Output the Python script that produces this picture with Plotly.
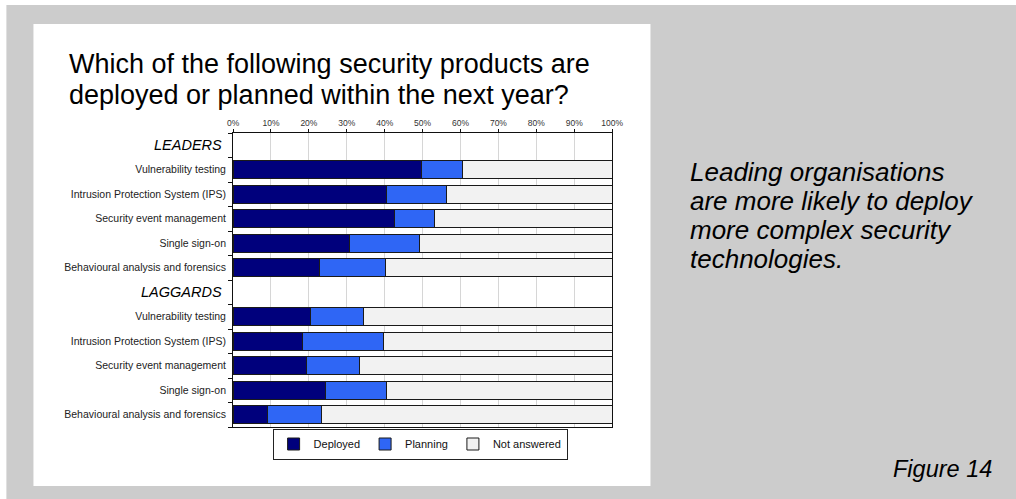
import plotly.graph_objects as go

# ---- data (percent of respondents) ----
cat_ids = ["LEADERS", "L_VT", "L_IPS", "L_SEM", "L_SSO", "L_BAF",
           "LAGGARDS", "G_VT", "G_IPS", "G_SEM", "G_SSO", "G_BAF"]
cat_labels = ["", "Vulnerability testing", "Intrusion Protection System (IPS)",
              "Security event management", "Single sign-on",
              "Behavioural analysis and forensics",
              "", "Vulnerability testing", "Intrusion Protection System (IPS)",
              "Security event management", "Single sign-on",
              "Behavioural analysis and forensics"]
group_headers = ["LEADERS", "LAGGARDS"]

deployed = [None, 49.6, 40.4, 42.7, 30.8, 22.8,
            None, 20.3, 18.3, 19.4, 24.4, 9.2]
planning = [None, 10.9, 15.8, 10.5, 18.5, 17.5,
            None, 14.0, 21.3, 13.9, 16.1, 14.1]
not_answered = [None, 39.5, 43.8, 46.8, 50.7, 59.7,
                None, 65.7, 60.4, 66.7, 59.5, 76.7]

x_ticks = [0, 10, 20, 30, 40, 50, 60, 70, 80, 90, 100]
x_ticktext = [f"{v}%" for v in x_ticks]

series = [("Deployed", deployed, "#00007c"),
          ("Planning", planning, "#2f66f5"),
          ("Not answered", not_answered, "#f2f2f2")]

title_lines = ["Which of the following security products are",
               "deployed or planned within the next year?"]
side_lines = ["Leading organisations", "are more likely to deploy",
              "more complex security", "technologies."]
figure_label = "Figure 14"

FONT = "Liberation Sans, Arial, sans-serif"

# figure canvas (slightly wider than the view so the grey fills it)
WF, H = 1040, 499
SX, OX = 0.982, 6.6   # observed horizontal mapping of the rendered page


def px_x(p):
    return ((p - OX) / SX) / WF


def px_y(p):
    return 1 - p / H


fig = go.Figure()
for name, vals, col in series:
    fig.add_trace(go.Bar(
        y=cat_ids, x=vals, name=name, orientation="h",
        marker=dict(color=col, line=dict(color="#1a1a1a", width=1)),
        width=0.74,
    ))

fig.update_layout(
    width=WF, height=H,
    margin=dict(l=0, r=0, t=0, b=0),
    paper_bgcolor="white",
    plot_bgcolor="rgba(0,0,0,0)",
    barmode="stack",
    font=dict(family=FONT, color="#222"),
    showlegend=True,
    legend=dict(
        orientation="h",
        x=px_x(420), y=px_y(444), xanchor="center", yanchor="middle",
        bordercolor="#222", borderwidth=1, bgcolor="white",
        font=dict(size=11, family=FONT, color="#111"),
        traceorder="normal",
        itemwidth=30,
    ),
    xaxis=dict(
        domain=[px_x(233.3), px_x(611.7)],
        range=[0, 100], side="top",
        tickvals=x_ticks, ticktext=x_ticktext,
        tickfont=dict(size=8.5, color="#333"),
        showgrid=True, gridcolor="#d6d6d6", gridwidth=1,
        showline=True, linecolor="#111", linewidth=1, mirror=True,
        ticks="outside", ticklen=3, tickcolor="#111",
        zeroline=False, fixedrange=True,
    ),
    yaxis=dict(
        domain=[px_y(427), px_y(133)],
        type="category",
        categoryorder="array", categoryarray=cat_ids,
        autorange="reversed",
        tickmode="array", tickvals=cat_ids, ticktext=cat_labels,
        tickson="boundaries",
        tickfont=dict(size=10.5, color="#222"),
        ticklabelstandoff=4,
        showline=True, linecolor="#111", linewidth=1, mirror=True,
        ticks="outside", ticklen=4, tickcolor="#111",
        showgrid=False, fixedrange=True,
    ),
    shapes=[
        dict(type="rect", xref="paper", yref="paper",
             x0=px_x(7), x1=1, y0=0, y1=px_y(5),
             fillcolor="#cccccc", line=dict(width=0), layer="below"),
        dict(type="rect", xref="paper", yref="paper",
             x0=px_x(34), x1=px_x(650), y0=px_y(486), y1=px_y(24),
             fillcolor="white", line=dict(width=0), layer="below"),
    ],
)

annotations = []
for i, line in enumerate(title_lines):
    annotations.append(dict(
        text=line, xref="paper", yref="paper",
        x=px_x(67.5), y=px_y(64 + 30.5 * i),
        xanchor="left", yanchor="middle", showarrow=False,
        font=dict(size=27, family=FONT, color="#000"),
    ))
for i, line in enumerate(side_lines):
    annotations.append(dict(
        text=f"<i>{line}</i>", xref="paper", yref="paper",
        x=px_x(687.5), y=px_y(172.5 + 28.7 * i),
        xanchor="left", yanchor="middle", showarrow=False,
        font=dict(size=26, family=FONT, color="#000"),
    ))
annotations.append(dict(
    text=f"<i>{figure_label}</i>", xref="paper", yref="paper",
    x=px_x(993), y=px_y(468.5),
    xanchor="right", yanchor="middle", showarrow=False,
    font=dict(size=23.5, family=FONT, color="#000"),
))
for g in group_headers:
    annotations.append(dict(
        text=f"<i>{g}</i>", xref="paper", yref="y",
        x=px_x(224.5), y=g, xanchor="right", yanchor="middle",
        showarrow=False, font=dict(size=14.5, family=FONT, color="#000"),
    ))
fig.update_layout(annotations=annotations)

fig.write_html(
    "out.html",
    config={"displayModeBar": False, "staticPlot": True},
    post_script="document.body.style.margin='0';document.body.style.overflow='hidden';",
)
